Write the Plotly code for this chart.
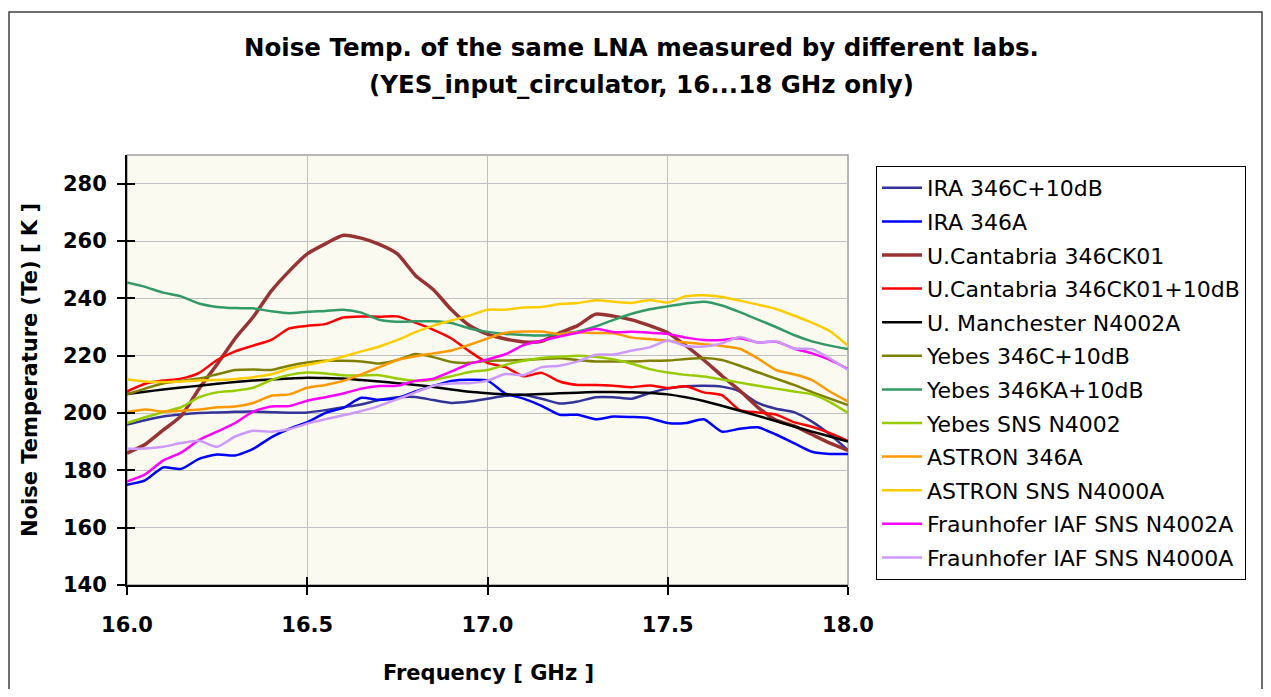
import plotly.graph_objects as go

freq = [16.00, 16.05, 16.10, 16.15, 16.20, 16.25, 16.30, 16.35, 16.40, 16.45,
        16.50, 16.55, 16.60, 16.65, 16.70, 16.75, 16.80, 16.85, 16.90, 16.95,
        17.00, 17.05, 17.10, 17.15, 17.20, 17.25, 17.30, 17.35, 17.40, 17.45,
        17.50, 17.55, 17.60, 17.65, 17.70, 17.75, 17.80, 17.85, 17.90, 17.95, 18.00]

ira_346c_10db = [196, 197.5, 198.8, 199.5, 200, 200.2, 200.4, 200.5, 200.3, 200.1,
                 200.2, 201, 202, 203, 204.5, 205.5, 205.6, 204.5, 203.5, 204,
                 205, 206, 206.3, 205, 203.3, 204, 205.5, 205.5, 205, 207,
                 208.5, 209.3, 209.5, 209.2, 207.5, 203.5, 201.5, 200.3, 197, 192.5, 187]
ira_346a = [175, 176.5, 181, 180.5, 184, 185.5, 185.2, 187.5, 191.5, 194.5,
            196.8, 200, 201.8, 205.3, 204.6, 205.2, 207.5, 209.5, 211.2, 211.6,
            211.3, 206.8, 205, 202.5, 199.4, 199.4, 197.8, 198.8, 198.6, 198.2,
            196.5, 196.5, 197.8, 193.5, 194.5, 195, 192.5, 189.5, 186.5, 185.7, 185.7]
ucan_346ck01 = [186, 189, 194, 199, 208.5, 217, 226, 233.5, 242.5, 249.5,
                255.5, 259, 262, 261, 258.8, 255.5, 248, 243, 236, 230.5,
                227.5, 225.8, 224.8, 225, 228, 230.5, 234.5, 233.8, 232.5, 230.5,
                228, 223.5, 218.5, 213, 207.8, 202, 197.5, 195.5, 192.5, 189.5, 187]
ucan_346ck01_10db = [207.5, 210.2, 211.3, 212, 214, 218.5, 221.5, 223.5, 225.5, 229.5,
                     230.4, 231, 233.3, 233.7, 233.6, 233.7, 231.5, 229, 226, 221.5,
                     217.5, 216, 212.8, 214, 211, 209.8, 209.8, 209.5, 209, 209.6,
                     208.7, 209.3, 207.2, 206.2, 201, 200.2, 199.5, 196.8, 195.2, 193, 190.3]
manchester_n4002a = [206.6, 207.4, 208.2, 208.9, 209.5, 210.2, 210.8, 211.3, 211.7, 212,
                     212.3, 212.2, 212, 211.5, 211, 210.4, 209.8, 209.1, 208.2, 207.4,
                     206.9, 206.5, 206.4, 206.6, 206.9, 207.1, 207.3, 207.3, 207.2, 207,
                     206.5, 205.5, 204.2, 202.5, 200.8, 199, 197.2, 195.3, 193.5, 191.8, 190]
yebes_346c_10db = [206.5, 208.5, 210.3, 211.2, 212, 213.5, 215, 215.2, 215, 216.5,
                   217.6, 218.2, 218.2, 218, 217.3, 218.5, 220.6, 219.5, 217.8, 217.5,
                   218.2, 218.3, 218.5, 218.8, 219.1, 218.5, 218, 218, 218, 218.2,
                   218.3, 218.8, 219.2, 218.5, 216.5, 214.2, 212, 209.8, 207.3, 205, 202.8]
yebes_346ka_10db = [245.5, 244, 242, 240.7, 238.2, 237, 236.6, 236.5, 235.5, 234.8,
                    235.3, 235.6, 236, 235, 232.5, 231.8, 232, 232, 231.4, 229.5,
                    228.3, 227.6, 227.2, 227, 227.6, 228.4, 230.2, 232.5, 234.6, 236.2,
                    237.2, 238.2, 238.8, 237.5, 235.2, 232.6, 230, 227.2, 225, 223.5, 222.3]
yebes_sns_n4002 = [196.5, 198.5, 200.3, 202, 205.5, 207.2, 207.8, 208.8, 211.5, 213.3,
                   214.1, 213.8, 213.2, 213.1, 213.2, 212, 211.2, 211.6, 212.8, 214.3,
                   215, 216.8, 218.2, 219.2, 219.6, 220, 219.6, 218.7, 217.2, 215.3,
                   214.1, 213.3, 212.7, 211.7, 210.6, 209.5, 208.5, 207.5, 206.5, 203.8, 200]
astron_346a = [200.3, 201.2, 200.5, 200.8, 201.2, 202, 202.3, 203.5, 206, 206.5,
               208.8, 209.8, 211.2, 213.5, 216, 218.5, 219.8, 220.8, 221.8, 223.8,
               226, 228, 228.4, 228.4, 227.5, 228.2, 227.9, 227.8, 226.3, 225.8,
               225.2, 224.6, 224, 223.4, 222.4, 219, 215, 213.5, 211.5, 207.5, 204]
astron_sns_n4000a = [211.8, 211, 210.8, 211, 211.3, 211.5, 211.9, 212.5, 213.5, 215.5,
                     216.8, 218, 219.7, 221.5, 223.2, 225.5, 228.2, 230.5, 232.3, 234,
                     236, 236, 236.8, 237, 238, 238.4, 239.3, 238.8, 238.4, 239.4,
                     238.5, 240.7, 241.1, 240.5, 239.2, 237.8, 236.3, 234, 231.5, 228.5, 223.4]
iaf_sns_n4002a = [176.1, 178.6, 183.4, 186.2, 190.6, 193.5, 196.5, 200.5, 202.3, 202.4,
                  204.3, 205.5, 206.8, 208.5, 209.4, 209.5, 211.2, 212, 214.5, 217.2,
                  218.7, 220.5, 223.7, 225.2, 226.7, 228, 229.4, 228.2, 228.3, 228,
                  227.6, 226.3, 225.5, 225.5, 226.1, 224.6, 224.9, 222.5, 220.8, 218.5, 215.3]
iaf_sns_n4000a = [187.5, 187.6, 188.2, 189.5, 190.3, 188.2, 191.8, 193.8, 193.5, 194.3,
                  196.3, 197.8, 199.2, 200.7, 202.5, 204.8, 207.2, 209.5, 210.3, 210.4,
                  211.3, 213.6, 213.2, 216, 216.5, 218, 220.3, 220.4, 221.8, 222.9,
                  225.3, 223.4, 223.2, 224.3, 226.5, 224.6, 225, 222.5, 222.3, 219, 215]

series_names = ["IRA 346C+10dB", "IRA 346A", "U.Cantabria 346CK01", "U.Cantabria 346CK01+10dB",
                "U. Manchester N4002A", "Yebes 346C+10dB", "Yebes 346KA+10dB", "Yebes SNS N4002",
                "ASTRON 346A", "ASTRON SNS N4000A", "Fraunhofer IAF SNS N4002A",
                "Fraunhofer IAF SNS N4000A"]
series_values = [ira_346c_10db, ira_346a, ucan_346ck01, ucan_346ck01_10db, manchester_n4002a,
                 yebes_346c_10db, yebes_346ka_10db, yebes_sns_n4002, astron_346a,
                 astron_sns_n4000a, iaf_sns_n4002a, iaf_sns_n4000a]
series_colors = ["#333399", "#0000FF", "#993333", "#FF0000", "#000000", "#808000",
                 "#339966", "#99CC00", "#FF9900", "#FFCC00", "#FF00FF", "#CC99FF"]
series_widths = [2.5, 2.5, 3.5, 2.5, 2.5, 2.5, 2.5, 2.5, 2.5, 2.5, 2.5, 2.5]

x_ticks = [16.0, 16.5, 17.0, 17.5, 18.0]
y_ticks = [140, 160, 180, 200, 220, 240, 260, 280]

FONT = "DejaVu Sans, Liberation Sans, Arial, sans-serif"

# the page body adds an 8px margin on every side; keep the figure inside the window
OFF = 8
W, H = 1271 - 2 * OFF, 697 - 2 * OFF
PL, PR, PT, PB = 127, 848, 155, 585   # plot area in window pixels
L, T = PL - OFF, PT - OFF
R, B = W - (PR - OFF), H - (PB - OFF)
pw, ph = PR - PL, PB - PT

def px_x(px):
    return (px - PL) / pw

def px_y(py):
    return (PB - py) / ph

fig = go.Figure()
for i, (name, vals, col, w) in enumerate(zip(series_names, series_values, series_colors, series_widths)):
    fig.add_trace(go.Scatter(x=freq, y=vals, mode="lines", name=name, legendgroup=f"g{i}",
                             line=dict(color=col, width=w, shape="spline", smoothing=0.6)))

fig.update_layout(
    width=W, height=H,
    margin=dict(l=L, r=R, t=T, b=B, pad=0),
    paper_bgcolor="white",
    plot_bgcolor="#FAFAF0",
    font=dict(family=FONT, color="black"),
    showlegend=True,
    legend=dict(x=px_x(876), y=px_y(166), xanchor="left", yanchor="top",
                bgcolor="white", bordercolor="#000000", borderwidth=1,
                font=dict(family=FONT, size=22, color="black"),
                itemwidth=40, tracegroupgap=2),
    xaxis=dict(range=[16.0, 18.0], tickvals=x_ticks, ticktext=[f"{v:.1f}" for v in x_ticks],
               showgrid=True, gridcolor="#C0C0C0", gridwidth=1,
               showline=True, linecolor="black", linewidth=2,
               ticks="outside", ticklen=8, tickwidth=2, tickcolor="black",
               tickfont=dict(family=FONT, size=21, color="black", weight="bold"),
               ticklabelstandoff=12, zeroline=False),
    yaxis=dict(range=[140, 290], tickvals=y_ticks,
               showgrid=True, gridcolor="#C0C0C0", gridwidth=1,
               showline=True, linecolor="black", linewidth=2,
               ticks="outside", ticklen=8, tickwidth=2, tickcolor="black",
               tickfont=dict(family=FONT, size=21, color="black", weight="bold"),
               ticklabelstandoff=6, zeroline=False),
    xaxis2=dict(range=[16.0, 18.0], tickvals=x_ticks, overlaying="x", anchor="y2",
                showgrid=False, showline=False, ticks="inside", ticklen=8, tickwidth=2,
                tickcolor="black", showticklabels=False, zeroline=False, side="bottom"),
    yaxis2=dict(range=[140, 290], tickvals=y_ticks, overlaying="y", anchor="x2",
                showgrid=False, showline=False, ticks="inside", ticklen=8, tickwidth=2,
                tickcolor="black", showticklabels=False, zeroline=False, side="left"),
)
fig.add_trace(go.Scatter(x=[None], y=[None], xaxis="x2", yaxis="y2", showlegend=False,
                         hoverinfo="skip"))

# plot area gray border and outer chart border
fig.add_shape(type="rect", xref="paper", yref="paper", x0=0, y0=0, x1=1, y1=1,
              line=dict(color="#A0A0A0", width=1.5), layer="below")
fig.add_shape(type="rect", xref="paper", yref="paper",
              x0=px_x(9), y0=px_y(720), x1=px_x(1262), y1=px_y(12),
              line=dict(color="#404040", width=1.5))

fig.add_annotation(text="<b>Noise Temp. of the same LNA measured by different labs.</b>",
                   xref="paper", yref="paper", x=px_x(641), y=px_y(47),
                   xanchor="center", yanchor="middle", showarrow=False,
                   font=dict(family=FONT, size=24.5, color="black"))
fig.add_annotation(text="<b>(YES_input_circulator, 16...18 GHz only)</b>",
                   xref="paper", yref="paper", x=px_x(641), y=px_y(85),
                   xanchor="center", yanchor="middle", showarrow=False,
                   font=dict(family=FONT, size=24.5, color="black"))
fig.add_annotation(text="<b>Frequency [ GHz ]</b>",
                   xref="paper", yref="paper", x=px_x(488), y=px_y(673),
                   xanchor="center", yanchor="middle", showarrow=False,
                   font=dict(family=FONT, size=21, color="black"))
fig.add_annotation(text="<b>Noise Temperature (Te) [ K ]</b>",
                   xref="paper", yref="paper", x=px_x(30), y=px_y(370),
                   xanchor="center", yanchor="middle", showarrow=False, textangle=-90,
                   font=dict(family=FONT, size=21, color="black"))

fig.write_html("out.html")
